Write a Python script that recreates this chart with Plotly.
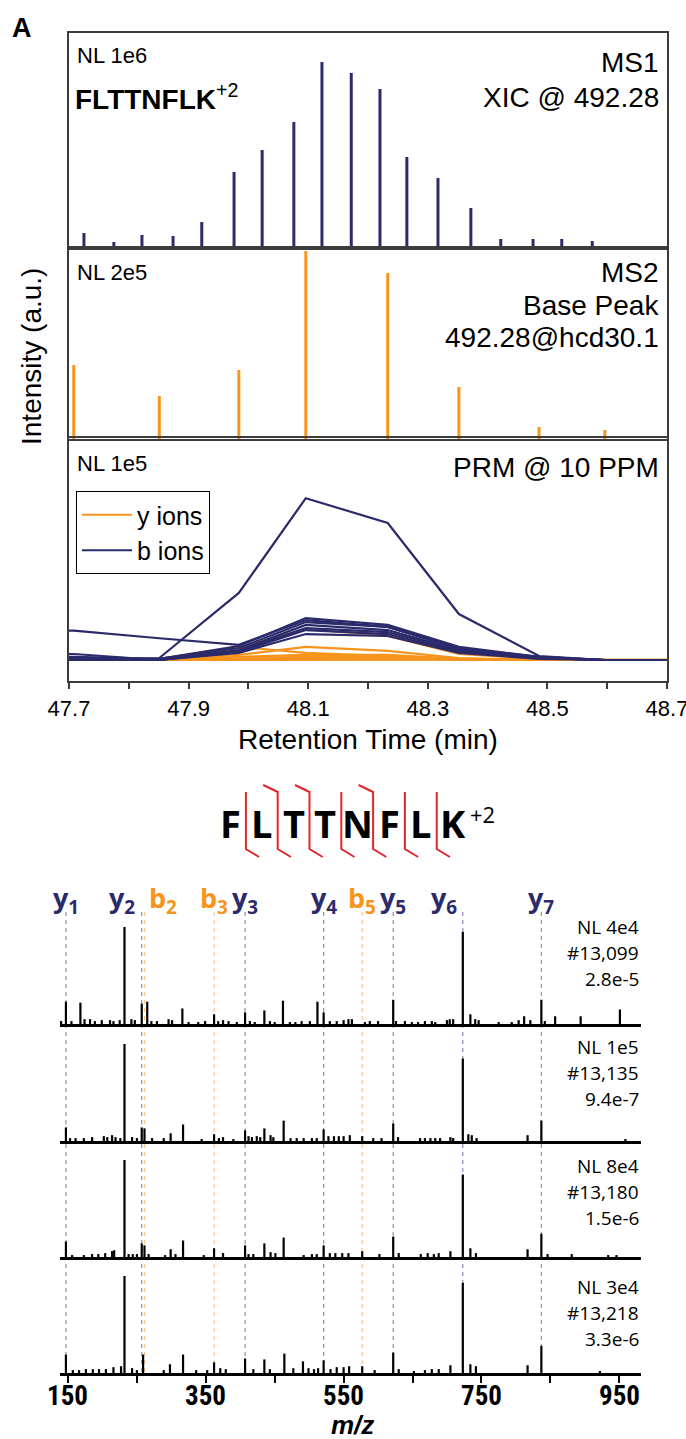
import plotly.graph_objects as go

W, H = 686, 1439
def px(v): return v / W
def py(v): return 1 - v / H

NAVY = "#2b2a6b"
ORANGE = "#f7941d"
FRAME = "#3c3c3c"
ARIAL = "Liberation Sans, Arial, sans-serif"
NARROW = "Liberation Sans Narrow, Roboto Condensed, Liberation Sans, sans-serif"
MYRIAD = "Open Sans, sans-serif"

# ---------------- data ----------------
ms1_time = [47.725, 47.775, 47.822, 47.874, 47.922, 47.976, 48.023, 48.076, 48.123,
            48.172, 48.220, 48.265, 48.317, 48.372, 48.422, 48.476, 48.524, 48.575]
ms1_int = [80600, 32300, 69900, 64500, 139800, 408600, 526900, 677400, 1000000,
           940900, 854800, 489200, 376300, 215000, 48400, 48400, 48400, 37600]

ms2_time = [47.708, 47.851, 47.984, 48.096, 48.233, 48.352, 48.486, 48.596]
ms2_int = [78700, 45700, 73400, 200000, 176600, 55300, 12800, 9600]

prm_time = [47.575, 47.708, 47.851, 47.984, 48.096, 48.233, 48.352, 48.486, 48.596, 48.72]
b_ion_traces = [
    [0, 0, 900, 30200, 72900, 61700, 20700, 1800, 0, 0],
    [13500, 13200, 9800, 6800, 18000, 14900, 5400, 1400, 0, 0],
    [1400, 1400, 500, 6300, 18900, 15800, 5900, 1400, 0, 0],
    [0, 0, 500, 5400, 17100, 14900, 5000, 900, 0, 0],
    [900, 900, 0, 4500, 15800, 13500, 4500, 900, 0, 0],
    [0, 0, 0, 4100, 14400, 12600, 4100, 900, 0, 0],
    [2700, 2700, 0, 3600, 13500, 11700, 3600, 900, 0, 0],
    [0, 0, 0, 3200, 11700, 10800, 3200, 500, 0, 0],
]
y_ion_traces = [
    [0, 0, 0, 5400, 14000, 10800, 2700, 500, 0, 0],
    [0, 0, 0, 2300, 5900, 4100, 900, 0, 0, 0],
    [0, 0, 0, 1400, 2300, 2300, 500, 0, 0, 0],
    [0, 0, 0, 900, 1400, 1400, 500, 0, 0, 0],
    [0, 0, 0, 500, 900, 900, 0, 0, 0, 0],
    [0, 0, 500, 5900, 3200, 1800, 500, 0, 0, 0],
    [0, 0, 0, 0, 0, 0, 0, 0, 200, 200],
]
prm_major = [47.7, 47.9, 48.1, 48.3, 48.5, 48.7]
prm_minor = [47.8, 48.0, 48.2, 48.4, 48.6]

s1_mz = [140,147,155,168,174,182,189,199,211,216,225,232,242,247,257,265,271,279,296,301,
         316,325,339,349,362,368,375,383,395,407,414,421,435,443,450,462,472,480,489,501,
         512,521,530,540,550,557,562,581,588,600,622,626,639,649,658,668,678,683,700,704,
         709,723,734,741,746,775,794,804,812,821,837,842,857,894,951]
s1_int = [3,23,3,22,5,5,3,4,4,3,4,100,5,4,21,23,3,3,5,4,
          16,2,2,3,10,3,4,3,2,12,3,2,14,3,2,24,2,2,3,3,
          23,12,3,3,4,5,5,2,3,3,25,3,3,2,2,3,3,2,4,5,
          5,95,10,5,4,2,2,4,8,4,25,3,8,8,15]
s2_mz = [147,153,161,173,185,202,207,214,219,226,232,243,250,257,261,272,289,299,317,344,
         362,369,375,390,407,412,417,424,429,435,444,448,463,473,482,492,504,511,521,528,
         536,543,550,559,577,593,605,622,629,661,668,676,683,690,705,709,723,731,736,743,
         817,837,959]
s2_int = [14,3,3,3,4,5,4,6,4,3,100,4,3,14,13,3,3,8,17,2,
          7,3,4,2,11,5,4,5,4,13,6,4,21,3,3,3,3,3,12,5,
          5,5,5,6,5,3,3,18,4,3,3,3,3,3,4,3,85,7,6,3,
          6,21,2]
s3_mz = [147,156,173,185,194,204,214,217,232,238,244,250,257,261,267,291,299,306,317,347,
         362,375,407,412,419,435,444,451,463,492,504,511,521,530,538,548,557,577,602,622,
         630,662,672,681,688,705,723,734,742,817,837,846,881,934,946]
s3_int = [16,2,2,3,3,4,6,7,100,3,3,3,14,12,3,2,8,3,17,2,
          9,4,12,3,3,14,5,4,20,2,3,3,12,4,4,4,4,6,3,21,
          4,3,4,3,4,6,85,9,4,8,24,3,3,2,2]
s4_mz = [147,157,166,176,186,195,205,216,227,232,243,250,259,289,298,317,336,352,362,371,
         379,407,419,435,443,464,477,491,499,507,513,521,531,540,550,558,577,595,622,630,
         652,668,678,688,705,723,734,742,817,837,922]
s4_int = [19,3,3,4,4,4,4,6,7,100,5,3,19,3,9,19,3,3,11,5,
          4,15,4,14,4,20,5,12,5,4,5,13,4,6,6,7,7,3,21,4,
          2,3,4,4,8,93,9,7,8,28,2]
spec_nl = ["NL 4e4", "NL 1e5", "NL 8e4", "NL 3e4"]
spec_scan = ["#13,099", "#13,135", "#13,180", "#13,218"]
spec_eval = ["2.8e-5", "9.4e-7", "1.5e-6", "3.3e-6"]

ion_names = ["y1", "y2", "b2", "b3", "y3", "y4", "b5", "y5", "y6", "y7"]
ion_mz = [147, 257, 261, 362, 407, 521, 577, 622, 723, 837]

mz_major = [150, 350, 550, 750, 950]
mz_minor = [250, 450, 650, 850]

sequence = "FLTTNFLK"
b_observed = [2, 3, 5]
y_observed = [1, 2, 3, 4, 5, 6, 7]

# ---------------- helpers ----------------
def sticks(xv, yv):
    xs, ys = [], []
    for a, b in zip(xv, yv):
        xs += [a, a, None]
        ys += [0, b, None]
    return xs, ys

fig = go.Figure()

x, y = sticks(ms1_time, ms1_int)
fig.add_trace(go.Scatter(x=x, y=y, mode="lines", line=dict(color=NAVY, width=3),
                         xaxis="x", yaxis="y", showlegend=False, hoverinfo="skip"))
x, y = sticks(ms2_time, ms2_int)
fig.add_trace(go.Scatter(x=x, y=y, mode="lines", line=dict(color=ORANGE, width=3),
                         xaxis="x2", yaxis="y2", showlegend=False, hoverinfo="skip"))

for i, tr in enumerate(y_ion_traces):
    fig.add_trace(go.Scatter(x=prm_time, y=tr, mode="lines", line=dict(color=ORANGE, width=2.2),
                             xaxis="x3", yaxis="y3", name="y ions", legendgroup="y",
                             showlegend=(i == 0), hoverinfo="skip"))
for i, tr in enumerate(b_ion_traces):
    fig.add_trace(go.Scatter(x=prm_time, y=tr, mode="lines", line=dict(color=NAVY, width=2.2),
                             xaxis="x3", yaxis="y3", name="b ions", legendgroup="b",
                             showlegend=(i == 0), hoverinfo="skip"))

spectra = [(s1_mz, s1_int), (s2_mz, s2_int), (s3_mz, s3_int), (s4_mz, s4_int)]
for k, (m, v) in enumerate(spectra):
    x, y = sticks(m, v)
    fig.add_trace(go.Scatter(x=x, y=y, mode="lines", line=dict(color="black", width=2.2),
                             xaxis=f"x{4+k}", yaxis=f"y{4+k}", showlegend=False, hoverinfo="skip"))

# ---------------- axes ----------------
frame = dict(showline=True, linecolor=FRAME, linewidth=1.5, mirror=True,
             showgrid=False, zeroline=False, fixedrange=True, automargin=False)
layout = dict(
    width=W, height=H, margin=dict(l=0, r=0, t=0, b=0, autoexpand=False),
    paper_bgcolor="white", plot_bgcolor="rgba(0,0,0,0)",
    xaxis=dict(domain=[px(69), px(667)], range=[47.7, 48.7], anchor="y",
               showticklabels=False, ticks="", **frame),
    yaxis=dict(domain=[py(248), py(33)], range=[0, 1.156e6], anchor="x",
               showticklabels=False, ticks="", **frame),
    xaxis2=dict(domain=[px(69), px(667)], range=[47.7, 48.7], anchor="y2",
                showticklabels=False, ticks="", **frame),
    yaxis2=dict(domain=[py(439), py(248)], range=[0, 2.032e5], anchor="x2",
                showticklabels=False, ticks="", **frame),
    xaxis3=dict(domain=[px(69), px(667)], range=[47.7, 48.7], anchor="y3",
                tickmode="array", tickvals=prm_major, ticktext=[f"{v:.1f}" for v in prm_major],
                ticks="outside", ticklen=6, tickwidth=1.5, tickcolor=FRAME,
                ticklabelstandoff=1, ticklabeloverflow="allow",
                minor=dict(tickvals=prm_minor, ticks="outside", ticklen=6, tickwidth=1.5,
                           tickcolor=FRAME, showgrid=False),
                tickfont=dict(family=ARIAL, size=22, color="black"), **frame),
    yaxis3=dict(domain=[py(681), py(438)], range=[-9460, 100000], anchor="x3",
                showticklabels=False, ticks="", **frame),
)
baselines = [1024, 1141, 1257, 1373]
for k, b in enumerate(baselines):
    xa = dict(domain=[px(60), px(641)], range=[138.4, 981.6], anchor=f"y{4+k}",
              showline=True, linecolor="black", linewidth=3, showgrid=False,
              zeroline=False, fixedrange=True, automargin=False, showticklabels=False)
    if k == 3:
        xa.update(tickmode="array", tickvals=mz_major,
                  ticks="outside", ticklen=7, tickwidth=2, tickcolor="black",
                  minor=dict(tickvals=mz_minor, ticks="outside", ticklen=7, tickwidth=2,
                             tickcolor="black", showgrid=False))
    else:
        xa.update(ticks="")
    layout[f"xaxis{4+k}"] = xa
    layout[f"yaxis{4+k}"] = dict(domain=[py(b), py(b - 110)], range=[0, 113.4],
                                 anchor=f"x{4+k}", visible=False, fixedrange=True,
                                 automargin=False)

layout["legend"] = dict(x=px(76), y=py(491), xanchor="left", yanchor="top",
                        bordercolor="black", borderwidth=1, bgcolor="white",
                        font=dict(family=ARIAL, size=25, color="black"),
                        tracegroupgap=0, traceorder="normal", itemwidth=50)
fig.update_layout(**layout)

# ---------------- annotations ----------------
def txt(text, x, y, size, anchor="left", family=ARIAL, color="black", **kw):
    return dict(text=text, x=px(x), y=py(y), xref="paper", yref="paper",
                xanchor=anchor, yanchor="middle", showarrow=False,
                font=dict(family=family, size=size, color=color), **kw)

ann = [
    txt("<b>A</b>", 10, 28, 27),
    txt("NL 1e6", 75, 55, 22),
    txt("<b>FLTTNFLK</b><sup>+2</sup>", 73, 97, 28),
    txt("MS1", 661, 63, 28, anchor="right"),
    txt("XIC @ 492.28", 661, 97, 28, anchor="right"),
    txt("NL 2e5", 75, 272, 22),
    txt("MS2", 661, 272, 28, anchor="right"),
    txt("Base Peak", 661, 305, 28, anchor="right"),
    txt("492.28@hcd30.1", 661, 337, 28, anchor="right"),
    txt("NL 1e5", 75, 463, 22),
    txt("PRM @ 10 PPM", 661, 468, 28, anchor="right"),
    txt("Retention Time (min)", 368, 739, 28, anchor="center"),
    txt("Intensity (a.u.)", 31, 357, 28, anchor="center", textangle=-90),
    txt("<b><i>m/z</i></b>", 352, 1425, 26, anchor="center"),
]

# m/z tick labels placed through the bottom spectrum's x axis
for v in mz_major:
    ann.append(dict(text=f"<b>{v}</b>", x=v, xref="x7", y=py(1396), yref="paper",
                    xanchor="center", yanchor="middle", showarrow=False,
                    font=dict(family=NARROW, size=27, color="black")))

spec_text_y = [927, 1047, 1166, 1287]
for k in range(4):
    y0 = spec_text_y[k]
    for j, t in enumerate([spec_nl[k], spec_scan[k], spec_eval[k]]):
        ann.append(txt(t, 641, y0 + 26 * j, 19, anchor="right", family=MYRIAD))

label_shift = {"y2": -20, "b2": 19, "y6": -19}
for name, m in zip(ion_names, ion_mz):
    col = NAVY if name[0] == "y" else ORANGE
    ann.append(dict(text=f"<b>{name[0]}<sub>{name[1:]}</sub></b>", x=m, xref="x4",
                    y=py(899), yref="paper", xanchor="center", yanchor="middle",
                    xshift=label_shift.get(name, 0), showarrow=False,
                    font=dict(family=MYRIAD, size=27, color=col)))

letter_x0, letter_step = 230, 31.8
for i, ch in enumerate(sequence):
    ann.append(txt(f"<b>{ch}</b>", letter_x0 + letter_step * i, 823, 38,
                   anchor="center", family=MYRIAD))
ann.append(txt("+2", letter_x0 + letter_step * (len(sequence) - 1) + 15, 814, 22,
               anchor="left", family=MYRIAD))

shapes = []
for name, m in zip(ion_names, ion_mz):
    col = "#8f8db8" if name[0] == "y" else "#f9c38c"
    shapes.append(dict(type="line", xref="x4", yref="paper", x0=m, x1=m,
                       y0=py(912), y1=py(1373), layer="below",
                       line=dict(color=col, width=1.2, dash="4px,4px")))

n = len(sequence)
for i in range(1, n):
    xm = letter_x0 + letter_step * (i - 0.5)
    pts = []
    if i in b_observed:
        pts.append((xm - 14.5, 785))
    pts.append((xm, 792))
    pts.append((xm, 849))
    if (n - i) in y_observed:
        pts.append((xm + 13.2, 857))
    path = "M " + " L ".join(f"{px(a):.5f},{py(b):.5f}" for a, b in pts)
    shapes.append(dict(type="path", xref="paper", yref="paper", path=path,
                       line=dict(color="#e2252b", width=2)))

fig.update_layout(annotations=ann, shapes=shapes)
fig.write_html("out.html")
